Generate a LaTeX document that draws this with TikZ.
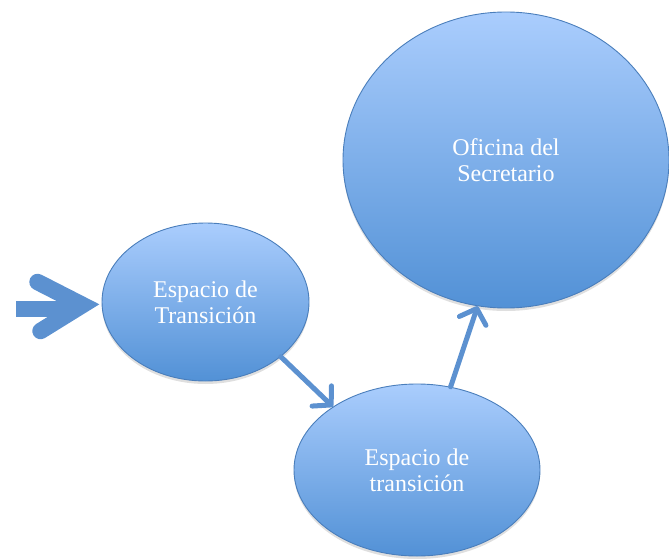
\documentclass[tikz,border=0pt]{standalone}
\usepackage{fontspec}
\setmainfont{Liberation Serif}
\usetikzlibrary{shapes.geometric,arrows.meta,shadows,calc}
\definecolor{topcol}{RGB}{170,205,253}
\definecolor{botcol}{RGB}{82,145,214}
\definecolor{bordercol}{RGB}{74,126,187}
\definecolor{arrowcol}{RGB}{92,145,208}
\tikzset{
  bubble/.style={ellipse, draw=bordercol, line width=0.9pt, top color=topcol, bottom color=botcol,
    text=white, font=\fontsize{24}{26}\selectfont, align=center, inner sep=0pt,
    drop shadow={shadow xshift=0pt, shadow yshift=-3pt, opacity=0.25}},
  link/.style={draw=arrowcol, line width=5pt, line cap=round,
    -{Straight Barb[length=13pt,width=28pt,line cap=round,line join=round]}},
  fatline/.style={draw=arrowcol, line width=16.5pt}
}
\begin{document}
\begin{tikzpicture}[x=1pt,y=-1pt]
\useasboundingbox (0,0) rectangle (669,559);
\node[bubble, minimum width=326pt, minimum height=296pt] (e3) at (506,160) {Oficina del\\Secretario};
\node[bubble, minimum width=207pt, minimum height=158pt] (e1) at (205.5,302) {Espacio de\\Transición};
\node[bubble, minimum width=246pt, minimum height=172pt] (e2) at (417,470) {Espacio de\\transición};
\coordinate (in) at (16,309);
\coordinate (vx) at ($(e1.west)+(-19,3)$);
\draw[fatline, line cap=butt] (in) -- ($(vx)+(-12,4)$);
\draw[fatline, line cap=round, line join=miter] ($(vx)+(-45,-23)$) -- (vx) -- ($(vx)+(-42,26)$);
\draw[link] (e1.-36) -- (e2.143);
\draw[link] (e2.68) -- (e3.-101);
\end{tikzpicture}
\end{document}
